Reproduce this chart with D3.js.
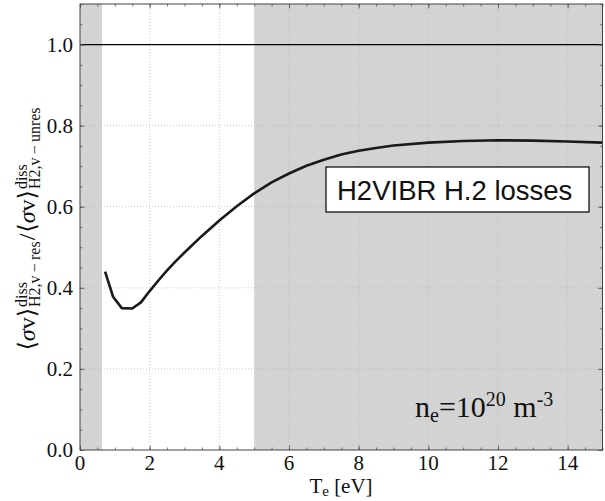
<!DOCTYPE html>
<html>
<head>
<meta charset="utf-8">
<script src="https://cdn.jsdelivr.net/npm/d3@7"></script>
<style>
  body { margin: 0; background: #fff; }
  svg { display: block; }
  text { font-family: "Liberation Serif", "DejaVu Serif", serif; fill: #111; }
</style>
</head>
<body>
<svg id="chart" width="605" height="501"></svg>
<script>
// electron temperature [eV] and ratio
var te    = [0.72, 0.95, 1.2, 1.5, 1.75, 2.0, 2.25, 2.5, 2.75, 3.0, 3.5, 4.0, 4.5, 5.0, 5.5, 6.0, 6.5, 7.0, 7.5, 8.0, 8.5, 9.0, 10.0, 11.0, 12.0, 13.0, 14.0, 15.0]
var ratio = [0.44, 0.378, 0.35, 0.349, 0.364, 0.392, 0.418, 0.443, 0.466, 0.487, 0.528, 0.566, 0.601, 0.633, 0.660, 0.682, 0.701, 0.716, 0.729, 0.738, 0.745, 0.751, 0.758, 0.762, 0.764, 0.763, 0.761, 0.758]

// shaded temperature bands
var bands = [[0, 0.63], [5, 15]]

var xTicks = [0, 2, 4, 6, 8, 10, 12, 14]
var yTicks = [0.0, 0.2, 0.4, 0.6, 0.8, 1.0]
var refLine = 1.0

var legendText = "H2VIBR H.2 losses"

var svg = d3.select("#chart")

var x = d3.scaleLinear().domain([0, 15]).range([80, 602.5])
var y = d3.scaleLinear().domain([0, 1.1]).range([450, 4])

var x0 = x.range()[0], x1 = x.range()[1]
var yb = y.range()[0], yt = y.range()[1]

// grey bands
svg.append("g").selectAll("rect").data(bands).enter().append("rect")
    .attr("x", d => x(d[0]))
    .attr("y", yt)
    .attr("width", d => x(d[1]) - x(d[0]))
    .attr("height", yb - yt)
    .attr("fill", "#d3d3d3")

// dotted grid
var grid = svg.append("g").attr("stroke", "#b8b8b8").attr("stroke-width", 0.8).attr("stroke-dasharray", "1,2")
grid.selectAll(".gx").data(xTicks.slice(1)).enter().append("line")
    .attr("x1", d => x(d)).attr("x2", d => x(d)).attr("y1", yt).attr("y2", yb)
grid.selectAll(".gy").data(yTicks.slice(1)).enter().append("line")
    .attr("y1", d => y(d)).attr("y2", d => y(d)).attr("x1", x0).attr("x2", x1)

// reference line at 1
svg.append("line")
    .attr("x1", x0).attr("x2", x1)
    .attr("y1", y(refLine)).attr("y2", y(refLine))
    .attr("stroke", "#000").attr("stroke-width", 1.3)

// the curve (straight segments, like the original sampling)
var line = d3.line().x((d, i) => x(te[i])).y(d => y(d))
svg.append("path")
    .attr("d", line(ratio))
    .attr("fill", "none")
    .attr("stroke", "#1a1a1a")
    .attr("stroke-width", 2.6)
    .attr("stroke-linejoin", "round")

// axes: inward ticks on all four sides
var bottomAxis = d3.axisBottom(x).tickValues(d3.range(0, 15.01, 0.5)).tickSize(-2.5).tickFormat("")
var topAxis = d3.axisTop(x).tickValues(d3.range(0, 15.01, 0.5)).tickSize(-2.5).tickFormat("")
var leftAxis = d3.axisLeft(y).tickValues(d3.range(0, 1.101, 0.05)).tickSize(-2.5).tickFormat("")
var rightAxis = d3.axisRight(y).tickValues(d3.range(0, 1.101, 0.05)).tickSize(-2.5).tickFormat("")

function styleAxis(g) {
    g.select(".domain").remove()
    g.selectAll(".tick line").attr("stroke", "#555").attr("stroke-width", 0.8)
}
svg.append("g").attr("transform", "translate(0," + yb + ")").call(bottomAxis).call(styleAxis)
svg.append("g").attr("transform", "translate(0," + yt + ")").call(topAxis).call(styleAxis)
svg.append("g").attr("transform", "translate(" + x0 + ",0)").call(leftAxis).call(styleAxis)
svg.append("g").attr("transform", "translate(" + x1 + ",0)").call(rightAxis).call(styleAxis)

// major ticks a bit longer
svg.append("g").attr("transform", "translate(0," + yb + ")")
    .call(d3.axisBottom(x).tickValues(xTicks).tickSize(-4.5).tickFormat("")).call(styleAxis)
svg.append("g").attr("transform", "translate(0," + yt + ")")
    .call(d3.axisTop(x).tickValues(xTicks).tickSize(-4.5).tickFormat("")).call(styleAxis)
svg.append("g").attr("transform", "translate(" + x0 + ",0)")
    .call(d3.axisLeft(y).tickValues(yTicks).tickSize(-4.5).tickFormat("")).call(styleAxis)
svg.append("g").attr("transform", "translate(" + x1 + ",0)")
    .call(d3.axisRight(y).tickValues(yTicks).tickSize(-4.5).tickFormat("")).call(styleAxis)

// frame
svg.append("rect")
    .attr("x", x0).attr("y", yt).attr("width", x1 - x0).attr("height", yb - yt)
    .attr("fill", "none").attr("stroke", "#444").attr("stroke-width", 1)

// tick labels
svg.append("g").selectAll("text").data(xTicks).enter().append("text")
    .attr("x", d => x(d)).attr("y", 470)
    .attr("text-anchor", "middle").attr("font-size", 21)
    .text(d => d)
svg.append("g").selectAll("text").data(yTicks).enter().append("text")
    .attr("x", 73).attr("y", d => y(d) + 7.4)
    .attr("text-anchor", "end").attr("font-size", 21)
    .text(d => d.toFixed(1))

// x label
var xl = svg.append("text").attr("x", 341).attr("y", 493).attr("text-anchor", "middle").attr("font-size", 21)
xl.append("tspan").text("T")
xl.append("tspan").attr("font-size", 15).attr("dy", 3).text("e")
xl.append("tspan").attr("dy", -3).text(" [eV]")

// y label, built piece by piece in a rotated group
var ylab = svg.append("g").attr("transform", "translate(35,228.5) rotate(-90)")
var cursor = 0
function mainPiece() {
    var t = ylab.append("text").attr("x", cursor).attr("y", 0).attr("font-size", 24)
    t.append("tspan").text("⟨")
    t.append("tspan").attr("font-style", "italic").text("σ")
    t.append("tspan").text("v⟩")
    cursor += t.node().getComputedTextLength() + 1
}
function scripts(sup, sub) {
    var a = ylab.append("text").attr("x", cursor).attr("y", -8).attr("font-size", 16).text(sup)
    var b = ylab.append("text").attr("x", cursor).attr("y", 5).attr("font-size", 16).text(sub)
    cursor += Math.max(a.node().getComputedTextLength(), b.node().getComputedTextLength()) + 1
}
mainPiece()
scripts("diss", "H2,v\u2009−\u2009res")
var sl = ylab.append("text").attr("x", cursor).attr("y", 0).attr("font-size", 24).text("/")
cursor += sl.node().getComputedTextLength() + 1
mainPiece()
scripts("diss", "H2,v\u2009−\u2009unres")
ylab.selectAll("text").attr("transform", "translate(" + (-cursor / 2) + ",0)")

// legend box
var lg = svg.append("g")
lg.append("rect")
    .attr("x", 326).attr("y", 167).attr("width", 263).attr("height", 45)
    .attr("fill", "#fff").attr("stroke", "#000").attr("stroke-width", 1.2)
lg.append("text")
    .attr("x", 337).attr("y", 200)
    .style("font-family", "'Liberation Sans', Arial, sans-serif")
    .attr("font-size", 27.5)
    .text(legendText)

// density annotation
var ann = svg.append("text").attr("x", 415).attr("y", 417).attr("font-size", 30)
ann.append("tspan").text("n")
ann.append("tspan").attr("font-size", 20).attr("dy", 5).text("e")
ann.append("tspan").attr("dy", -5).text("=10")
ann.append("tspan").attr("font-size", 20).attr("dy", -11).text("20")
ann.append("tspan").attr("dy", 11).text(" m")
ann.append("tspan").attr("font-size", 20).attr("dy", -11).text("-3")
</script>
</body>
</html>
